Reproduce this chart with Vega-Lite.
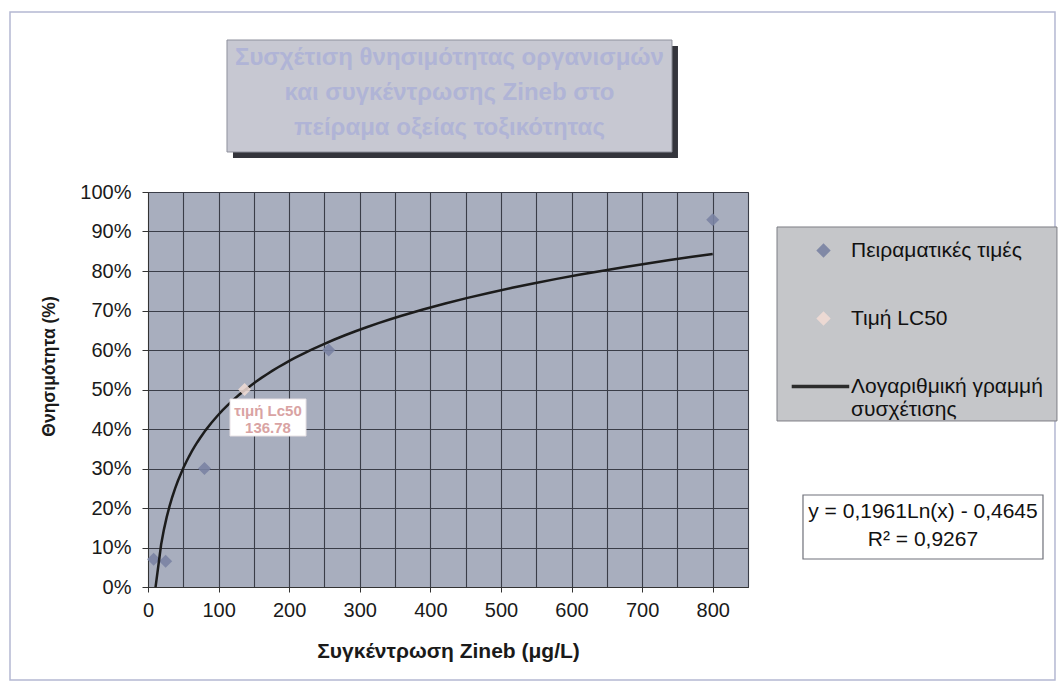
{
  "$schema": "https://vega.github.io/schema/vega-lite/v6.json",
  "autosize": {"type": "none"},
  "width": 600,
  "height": 395,
  "padding": {"left": 148, "top": 192, "right": 313, "bottom": 102},
  "background": "#ffffff",
  "config": {
    "font": "Liberation Sans",
    "view": {"fill": "#a8aebe", "stroke": "#6c6f78", "strokeWidth": 1}
  },
  "resolve": {"axis": {"x": "independent", "y": "independent"}},
  "datasets": {
    "points": [
      {"conc": 8, "mort": 0.07, "series": "Πειραματικές τιμές"},
      {"conc": 25, "mort": 0.065, "series": "Πειραματικές τιμές"},
      {"conc": 80, "mort": 0.30, "series": "Πειραματικές τιμές"},
      {"conc": 256, "mort": 0.60, "series": "Πειραματικές τιμές"},
      {"conc": 800, "mort": 0.93, "series": "Πειραματικές τιμές"}
    ],
    "lc50": [
      {"conc": 136.78, "mort": 0.5, "series": "Τιμή LC50"}
    ]
  },
  "layer": [
    {
      "data": {"values": [{}]},
      "mark": {"type": "rect", "fill": null, "stroke": "#b4b8d2", "strokeWidth": 1.5},
      "encoding": {
        "x": {"datum": -195.5, "type": "quantitative", "scale": {"domain": [0, 850], "nice": false}, "axis": null},
        "x2": {"datum": 1284.9},
        "y": {"datum": 1.4557, "type": "quantitative", "scale": {"domain": [0, 1], "nice": false}, "axis": null},
        "y2": {"datum": -0.2354}
      }
    },
    {
      "data": {"values": [{}]},
      "mark": {"type": "rect", "fill": "#34353c"},
      "encoding": {
        "x": {"datum": 120.4, "type": "quantitative", "scale": {"domain": [0, 850], "nice": false}, "axis": null},
        "x2": {"datum": 750.8},
        "y": {"datum": 1.3696, "type": "quantitative", "scale": {"domain": [0, 1], "nice": false}, "axis": null},
        "y2": {"datum": 1.0861}
      }
    },
    {
      "data": {"values": [{}]},
      "mark": {"type": "rect", "fill": "#c7c8d2", "stroke": "#8e909c", "strokeWidth": 1},
      "encoding": {
        "x": {"datum": 111.9, "type": "quantitative", "scale": {"domain": [0, 850], "nice": false}, "axis": null},
        "x2": {"datum": 742.3},
        "y": {"datum": 1.3848, "type": "quantitative", "scale": {"domain": [0, 1], "nice": false}, "axis": null},
        "y2": {"datum": 1.1013}
      }
    },
    {
      "data": {"values": [{}]},
      "mark": {
        "type": "text",
        "text": ["Συσχέτιση θνησιμότητας οργανισμών", "και συγκέντρωσης Zineb στο", "πείραμα οξείας τοξικότητας"],
        "fontSize": 24,
        "fontWeight": "bold",
        "color": "#b0b4d6",
        "lineHeight": 35,
        "align": "center",
        "baseline": "middle"
      },
      "encoding": {
        "x": {"datum": 427.1, "type": "quantitative", "scale": {"domain": [0, 850], "nice": false}, "axis": null},
        "y": {"datum": 1.3392, "type": "quantitative", "scale": {"domain": [0, 1], "nice": false}, "axis": null}
      }
    },
    {
      "data": {"values": [{}]},
      "mark": {"type": "rect", "fill": "#c5c6c9", "stroke": "#7d7e85", "strokeWidth": 1},
      "encoding": {
        "x": {"datum": 891.1, "type": "quantitative", "scale": {"domain": [0, 850], "nice": false}, "axis": null},
        "x2": {"datum": 1287.7},
        "y": {"datum": 0.9114, "type": "quantitative", "scale": {"domain": [0, 1], "nice": false}, "axis": null},
        "y2": {"datum": 0.4203}
      }
    },
    {
      "data": {"name": "points"},
      "mark": {"type": "point", "shape": "diamond", "filled": true, "size": 170, "opacity": 0.9},
      "encoding": {
        "x": {
          "field": "conc", "type": "quantitative",
          "scale": {"domain": [0, 850], "nice": false},
          "axis": {
            "orient": "bottom",
            "values": [0, 50, 100, 150, 200, 250, 300, 350, 400, 450, 500, 550, 600, 650, 700, 750, 800, 850],
            "labelExpr": "datum.value % 100 === 0 ? datum.value : ''",
            "tickOpacity": {"condition": {"test": "datum.value % 100 !== 0", "value": 0}, "value": 1},
            "title": "Συγκέντρωση Zineb (μg/L)",
            "titleFontSize": 21, "titleFontWeight": "bold", "titleColor": "#1a1a1a", "titlePadding": 20,
            "labelFontSize": 20, "labelColor": "#1a1a1a", "labelPadding": 8, "labelFlush": false, "labelOverlap": false,
            "tickSize": 5, "tickColor": "#333333", "domainColor": "#333333",
            "grid": true, "gridColor": "#3a3d48", "gridWidth": 1.1, "gridOpacity": 1
          }
        },
        "y": {
          "field": "mort", "type": "quantitative",
          "scale": {"domain": [0, 1], "nice": false},
          "axis": {
            "orient": "left",
            "values": [0, 0.1, 0.2, 0.3, 0.4, 0.5, 0.6, 0.7, 0.8, 0.9, 1],
            "format": ".0%",
            "title": "Θνησιμότητα (%)",
            "titleFontSize": 17.5, "titleFontWeight": "bold", "titleColor": "#1a1a1a", "titlePadding": 21, "titleY": 174,
            "labelFontSize": 20, "labelColor": "#1a1a1a", "labelPadding": 11, "labelFlush": false, "labelOverlap": false,
            "tickSize": 6, "tickColor": "#333333", "domainColor": "#333333",
            "grid": true, "gridColor": "#3a3d48", "gridWidth": 1.1, "gridOpacity": 1
          }
        },
        "color": {
          "field": "series", "type": "nominal",
          "scale": {
            "domain": ["Πειραματικές τιμές", "Τιμή LC50", "Λογαριθμική γραμμή συσχέτισης"],
            "range": ["#7a83a3", "#f1dcd5", "#1c1c1c"]
          },
          "legend": {
            "title": null,
            "orient": "none",
            "legendX": 665,
            "legendY": 48,
            "padding": 0,
            "symbolSize": 150,
            "labelFontSize": 21,
            "labelColor": "#111111",
            "labelLimit": 400,
            "labelOffset": 17,
            "rowPadding": 46,
            "labelExpr": "datum.label === 'Λογαριθμική γραμμή συσχέτισης' ? ['Λογαριθμική γραμμή', 'συσχέτισης'] : datum.label"
          }
        },
        "shape": {
          "field": "series", "type": "nominal",
          "scale": {
            "domain": ["Πειραματικές τιμές", "Τιμή LC50", "Λογαριθμική γραμμή συσχέτισης"],
            "range": ["diamond", "diamond", "M-5.07,-0.17H4.08V0.17H-5.07Z"]
          },
          "legend": {
            "title": null,
            "orient": "none",
            "legendX": 665,
            "legendY": 48,
            "padding": 0,
            "symbolSize": 150,
            "labelFontSize": 21,
            "labelColor": "#111111",
            "labelLimit": 400,
            "labelOffset": 17,
            "rowPadding": 46,
            "labelExpr": "datum.label === 'Λογαριθμική γραμμή συσχέτισης' ? ['Λογαριθμική γραμμή', 'συσχέτισης'] : datum.label"
          }
        }
      }
    },
    {
      "data": {"name": "points"},
      "transform": [
        {"regression": "mort", "on": "conc", "method": "log", "extent": [10.7, 800]}
      ],
      "mark": {"type": "line", "strokeWidth": 2.5},
      "encoding": {
        "x": {"field": "conc", "type": "quantitative", "scale": {"domain": [0, 850], "nice": false}, "axis": null},
        "y": {"field": "mort", "type": "quantitative", "scale": {"domain": [0, 1], "nice": false}, "axis": null},
        "color": {"datum": "Λογαριθμική γραμμή συσχέτισης", "type": "nominal"}
      }
    },
    {
      "data": {"name": "lc50"},
      "mark": {"type": "point", "shape": "diamond", "filled": true, "size": 170, "opacity": 0.85},
      "encoding": {
        "x": {"field": "conc", "type": "quantitative", "scale": {"domain": [0, 850], "nice": false}, "axis": null},
        "y": {"field": "mort", "type": "quantitative", "scale": {"domain": [0, 1], "nice": false}, "axis": null},
        "color": {"field": "series", "type": "nominal"},
        "shape": {"field": "series", "type": "nominal"}
      }
    },
    {
      "data": {"values": [{}]},
      "mark": {"type": "rect", "fill": "#ffffff", "stroke": "#e9e3e6", "strokeWidth": 1},
      "encoding": {
        "x": {"datum": 116.2, "type": "quantitative", "scale": {"domain": [0, 850], "nice": false}, "axis": null},
        "x2": {"datum": 223.8},
        "y": {"datum": 0.4759, "type": "quantitative", "scale": {"domain": [0, 1], "nice": false}, "axis": null},
        "y2": {"datum": 0.3823}
      }
    },
    {
      "data": {"values": [{}]},
      "mark": {
        "type": "text",
        "text": ["τιμή Lc50", "136.78"],
        "fontSize": 15,
        "fontWeight": "bold",
        "color": "#d9a3a3",
        "lineHeight": 17,
        "align": "center",
        "baseline": "middle"
      },
      "encoding": {
        "x": {"datum": 170, "type": "quantitative", "scale": {"domain": [0, 850], "nice": false}, "axis": null},
        "y": {"datum": 0.4456, "type": "quantitative", "scale": {"domain": [0, 1], "nice": false}, "axis": null}
      }
    },
    {
      "data": {"values": [{}]},
      "mark": {"type": "rect", "fill": "#ffffff", "stroke": "#6f717a", "strokeWidth": 1.2},
      "encoding": {
        "x": {"datum": 927.9, "type": "quantitative", "scale": {"domain": [0, 850], "nice": false}, "axis": null},
        "x2": {"datum": 1267.9},
        "y": {"datum": 0.2329, "type": "quantitative", "scale": {"domain": [0, 1], "nice": false}, "axis": null},
        "y2": {"datum": 0.0709}
      }
    },
    {
      "data": {"values": [{}]},
      "mark": {
        "type": "text",
        "text": ["y = 0,1961Ln(x) - 0,4645", "R² = 0,9267"],
        "fontSize": 21,
        "color": "#111111",
        "lineHeight": 28,
        "align": "center",
        "baseline": "middle"
      },
      "encoding": {
        "x": {"datum": 1097.9, "type": "quantitative", "scale": {"domain": [0, 850], "nice": false}, "axis": null},
        "y": {"datum": 0.1899, "type": "quantitative", "scale": {"domain": [0, 1], "nice": false}, "axis": null}
      }
    }
  ]
}
